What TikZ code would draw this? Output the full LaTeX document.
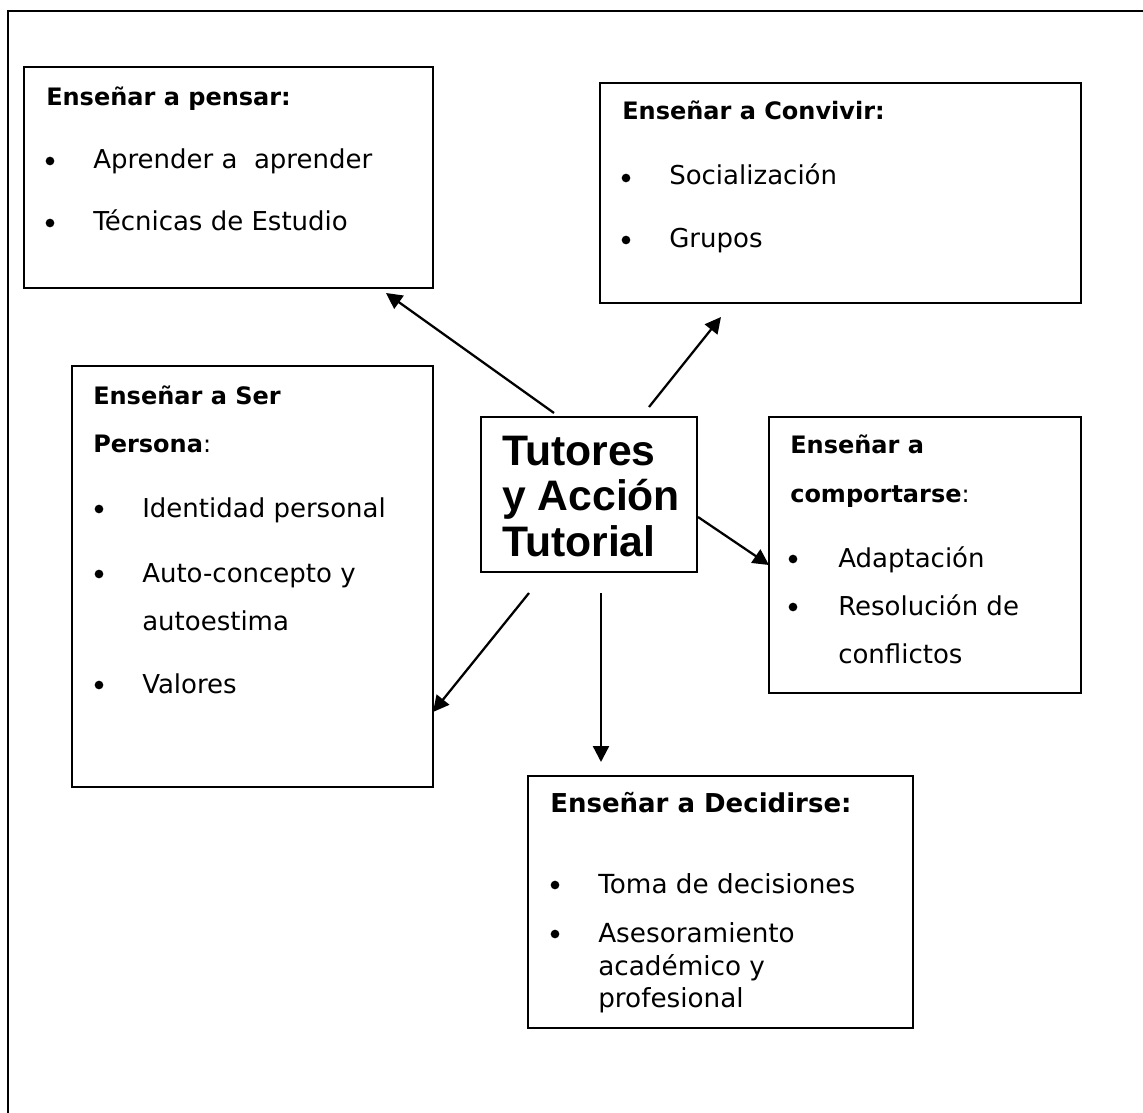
\documentclass[tikz,border=0pt]{standalone}
\usepackage{fontspec}
\setmainfont{DejaVu Sans}
\newfontfamily\arialfont{Liberation Sans}
\usetikzlibrary{arrows.meta,fit}
\begin{document}
\begin{tikzpicture}[x=0.75pt,y=-0.75pt,
  box/.style={draw, line width=1.9pt, inner sep=0pt, outer sep=0pt},
  ttl/.style={anchor=base west, inner sep=0pt, font=\fontsize{18}{22}\selectfont\bfseries},
  ttlb/.style={anchor=base west, inner sep=0pt, font=\fontsize{19.5}{23}\selectfont\bfseries},
  txt/.style={anchor=base west, inner sep=0pt, font=\fontsize{19.5}{23}\selectfont},
  txtb/.style={anchor=base west, inner sep=0pt, font=\fontsize{19.7}{23}\selectfont},
  bul/.style={circle, fill, inner sep=0pt, minimum size=6.5pt},
  big/.style={anchor=base west, inner sep=0pt, font=\arialfont\bfseries\fontsize{32}{36}\selectfont},
  arr/.style={-{Triangle[length=12pt,width=12pt]}, line width=1.7pt}]
\useasboundingbox (0,0) rectangle (1143,1113);
% outer frame
\draw[line width=1.6pt] (8,1113) -- (8,11) -- (1143,11);

% boxes
\node[box, fit={(24,67)(433,288)}] (b1) {};
\node[box, fit={(600,83)(1081,303)}] (b2) {};
\node[box, fit={(72,366)(433,787)}] (b3) {};
\node[box, fit={(481,417)(697,572)}] (ctr) {};
\node[box, fit={(769,417)(1081,693)}] (b4) {};
\node[box, fit={(528,776)(913,1028)}] (b5) {};

% box 1
\node[ttl] (b1t) at (46,106) {Enseñar a pensar:};
\node[bul] (b1p1) at (50,161) {};
\node[txt] (b1x1) at (93,168) {Aprender a\ \ aprender};
\node[bul] (b1p2) at (50,223) {};
\node[txt] (b1x2) at (93,230) {Técnicas de Estudio};

% box 2
\node[ttl] (b2t) at (622,120) {Enseñar a Convivir:};
\node[bul] (b2p1) at (626,178) {};
\node[txt] (b2x1) at (669,185) {Socialización};
\node[bul] (b2p2) at (626,240) {};
\node[txt] (b2x2) at (669,247) {Grupos};

% box 3
\node[ttl] (b3t1) at (93,404) {Enseñar a Ser};
\node[txt] (b3t2) at (93,452) {\fontsize{18}{22}\selectfont\textbf{Persona}:};
\node[bul] (b3p1) at (99,509) {};
\node[txt] (b3x1) at (142,517) {Identidad personal};
\node[bul] (b3p2) at (99,574) {};
\node[txt] (b3x2) at (142,582) {Auto-concepto y};
\node[txt] (b3x3) at (142,630) {autoestima};
\node[bul] (b3p3) at (99,685) {};
\node[txt] (b3x4) at (142,693) {Valores};

% centre
\node[big] (c1) at (502,465) {Tutores};
\node[big] (c2) at (502,510) {y Acción};
\node[big] (c3) at (502,556) {Tutorial};

% box 4
\node[ttl] (b4t1) at (790,453) {Enseñar a};
\node[txt] (b4t2) at (790,502) {\fontsize{18}{22}\selectfont\textbf{comportarse}:};
\node[bul] (b4p1) at (793,559) {};
\node[txt] (b4x1) at (838,567) {Adaptación};
\node[bul] (b4p2) at (793,607) {};
\node[txt] (b4x2) at (838,615) {Resolución de};
\node[txt] (b4x3) at (838,663) {conflictos};

% box 5
\node[ttlb] (b5t) at (550,812) {Enseñar a Decidirse:};
\node[bul] (b5p1) at (555,885) {};
\node[txtb] (b5x1) at (598,893) {Toma de decisiones};
\node[bul] (b5p2) at (555,934) {};
\node[txtb] (b5x2) at (598,942) {Asesoramiento};
\node[txtb] (b5x3) at (598,975) {académico y};
\node[txtb] (b5x4) at (598,1007) {profesional};

% arrow end points
\coordinate (a1s) at (554,413);
\coordinate (a1e) at (386,293);
\coordinate (a2s) at (649,407);
\coordinate (a2e) at (721,317);
\coordinate (a3s) at (698,517);
\coordinate (a3e) at (769,565);
\coordinate (a4s) at (529,593);
\coordinate (a4e) at (433,712);
\coordinate (a5s) at (601,593);
\coordinate (a5e) at (601,762);

\draw[arr] (a1s) -- (a1e);
\draw[arr] (a2s) -- (a2e);
\draw[arr] (a3s) -- (a3e);
\draw[arr] (a4s) -- (a4e);
\draw[arr] (a5s) -- (a5e);
\end{tikzpicture}
\end{document}
